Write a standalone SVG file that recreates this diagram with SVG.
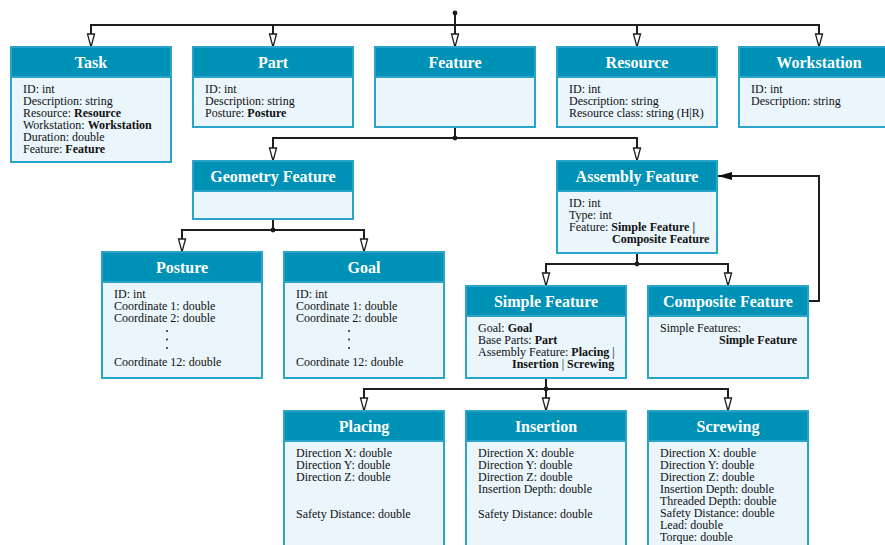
<svg xmlns="http://www.w3.org/2000/svg" width="885" height="545" viewBox="0 0 885 545">
  <style>
    .body { fill: #eaf5fc; stroke: #2ba4c9; stroke-width: 2; }
    .head { fill: #0092b6; stroke: #2ba4c9; stroke-width: 2; }
    .title { font-family: "Liberation Serif", "Times New Roman", serif; font-size: 16px; font-weight: bold; fill: #ffffff; text-anchor: middle; }
    .attr { font-family: "Liberation Serif", "Times New Roman", serif; font-size: 12px; fill: #111111; }
    .b { font-weight: bold; }
    .wire { fill: none; stroke: #1e1e1e; stroke-width: 2; }
    .gen { marker-end: url(#hollow); }
    .joint { fill: #1e1e1e; }
    .ell { fill: #222222; }
  </style>
  <defs>
    <!-- hollow triangle for generalization / containment edges -->
    <marker id="hollow" viewBox="0 0 14 8" refX="13.5" refY="4" markerWidth="14" markerHeight="8" markerUnits="userSpaceOnUse" orient="auto" overflow="visible">
      <path d="M0.5,0.5 L13.5,4 L0.5,7.5 Z" fill="#ffffff" stroke="#1e1e1e" stroke-width="1.3"/>
    </marker>
    <!-- solid arrowhead for the back-reference edge -->
    <marker id="solid" viewBox="0 0 14 8" refX="14" refY="4" markerWidth="14" markerHeight="8" markerUnits="userSpaceOnUse" orient="auto">
      <path d="M0,0 L14,4 L0,8 Z" fill="#111111"/>
    </marker>
  </defs>

  <rect width="885" height="545" fill="#ffffff"/>

  <!-- connectors -->
  <g id="connectors">
    <path class="wire gen" d="M455 13 V47"/>
    <path class="wire gen" d="M455 25 H91 V47"/>
    <path class="wire gen" d="M455 25 H819 V47"/>
    <path class="wire gen" d="M273 25 V47"/>
    <path class="wire gen" d="M637 25 V47"/>
    <circle class="joint" cx="455" cy="13" r="2.4"/>

    <path class="wire" d="M455 127 V138"/>
    <path class="wire gen" d="M455 138 H273 V161"/>
    <path class="wire gen" d="M455 138 H637 V161"/>
    <circle class="joint" cx="455" cy="138" r="2.4"/>

    <path class="wire" d="M273 219 V230"/>
    <path class="wire gen" d="M273 230 H182 V252"/>
    <path class="wire gen" d="M273 230 H364 V252"/>
    <circle class="joint" cx="273" cy="230" r="2.4"/>

    <path class="wire" d="M637 253 V264"/>
    <path class="wire gen" d="M637 264 H546 V286"/>
    <path class="wire gen" d="M637 264 H728 V286"/>
    <circle class="joint" cx="637" cy="264" r="2.4"/>

    <path class="wire" d="M808 301 H819 V176 H718" marker-end="url(#solid)"/>

    <path class="wire" d="M546 378 V389"/>
    <path class="wire gen" d="M546 389 H364 V411"/>
    <path class="wire gen" d="M546 389 V411"/>
    <path class="wire gen" d="M546 389 H728 V411"/>
    <circle class="joint" cx="546" cy="389" r="2.4"/>
  </g>

  <!-- top row -->
  <g id="task">
    <rect class="body" x="11" y="47" width="160" height="115"/>
    <rect class="head" x="11" y="47" width="160" height="30"/>
    <text class="title" x="91" y="67.5">Task</text>
    <text class="attr" x="23" y="93">ID: int</text>
    <text class="attr" x="23" y="105">Description: string</text>
    <text class="attr" x="23" y="117">Resource: <tspan class="b">Resource</tspan></text>
    <text class="attr" x="23" y="129">Workstation: <tspan class="b">Workstation</tspan></text>
    <text class="attr" x="23" y="141">Duration: double</text>
    <text class="attr" x="23" y="153">Feature: <tspan class="b">Feature</tspan></text>
  </g>

  <g id="part">
    <rect class="body" x="193" y="47" width="160" height="80"/>
    <rect class="head" x="193" y="47" width="160" height="30"/>
    <text class="title" x="273" y="67.5">Part</text>
    <text class="attr" x="205" y="93">ID: int</text>
    <text class="attr" x="205" y="105">Description: string</text>
    <text class="attr" x="205" y="117">Posture: <tspan class="b">Posture</tspan></text>
  </g>

  <g id="feature">
    <rect class="body" x="375" y="47" width="160" height="80"/>
    <rect class="head" x="375" y="47" width="160" height="30"/>
    <text class="title" x="455" y="67.5">Feature</text>
  </g>

  <g id="resource">
    <rect class="body" x="557" y="47" width="160" height="80"/>
    <rect class="head" x="557" y="47" width="160" height="30"/>
    <text class="title" x="637" y="67.5">Resource</text>
    <text class="attr" x="569" y="93">ID: int</text>
    <text class="attr" x="569" y="105">Description: string</text>
    <text class="attr" x="569" y="117">Resource class: string (H|R)</text>
  </g>

  <g id="workstation">
    <rect class="body" x="739" y="47" width="160" height="80"/>
    <rect class="head" x="739" y="47" width="160" height="30"/>
    <text class="title" x="819" y="67.5">Workstation</text>
    <text class="attr" x="751" y="93">ID: int</text>
    <text class="attr" x="751" y="105">Description: string</text>
  </g>

  <!-- second tier -->
  <g id="geometry-feature">
    <rect class="body" x="193" y="161" width="160" height="58"/>
    <rect class="head" x="193" y="161" width="160" height="30"/>
    <text class="title" x="273" y="181.5">Geometry Feature</text>
  </g>

  <g id="assembly-feature">
    <rect class="body" x="557" y="161" width="160" height="92"/>
    <rect class="head" x="557" y="161" width="160" height="30"/>
    <text class="title" x="637" y="181.5">Assembly Feature</text>
    <text class="attr" x="569" y="207">ID: int</text>
    <text class="attr" x="569" y="219">Type: int</text>
    <text class="attr" x="569" y="231">Feature: <tspan class="b">Simple Feature |</tspan></text>
    <text class="attr b" x="612" y="243">Composite Feature</text>
  </g>

  <!-- third tier -->
  <g id="posture">
    <rect class="body" x="102" y="252" width="160" height="126"/>
    <rect class="head" x="102" y="252" width="160" height="30"/>
    <text class="title" x="182" y="272.5">Posture</text>
    <text class="attr" x="114" y="298">ID: int</text>
    <text class="attr" x="114" y="310">Coordinate 1: double</text>
    <text class="attr" x="114" y="322">Coordinate 2: double</text>
    <circle class="ell" cx="167" cy="331" r="1"/>
    <circle class="ell" cx="167" cy="339.5" r="1"/>
    <circle class="ell" cx="167" cy="348" r="1"/>
    <text class="attr" x="114" y="366">Coordinate 12: double</text>
  </g>

  <g id="goal">
    <rect class="body" x="284" y="252" width="160" height="126"/>
    <rect class="head" x="284" y="252" width="160" height="30"/>
    <text class="title" x="364" y="272.5">Goal</text>
    <text class="attr" x="296" y="298">ID: int</text>
    <text class="attr" x="296" y="310">Coordinate 1: double</text>
    <text class="attr" x="296" y="322">Coordinate 2: double</text>
    <circle class="ell" cx="349" cy="331" r="1"/>
    <circle class="ell" cx="349" cy="339.5" r="1"/>
    <circle class="ell" cx="349" cy="348" r="1"/>
    <text class="attr" x="296" y="366">Coordinate 12: double</text>
  </g>

  <g id="simple-feature">
    <rect class="body" x="466" y="286" width="160" height="92"/>
    <rect class="head" x="466" y="286" width="160" height="30"/>
    <text class="title" x="546" y="306.5">Simple Feature</text>
    <text class="attr" x="478" y="332">Goal: <tspan class="b">Goal</tspan></text>
    <text class="attr" x="478" y="344">Base Parts: <tspan class="b">Part</tspan></text>
    <text class="attr" x="478" y="356">Assembly Feature: <tspan class="b">Placing</tspan> |</text>
    <text class="attr" x="512" y="368"><tspan class="b">Insertion</tspan> | <tspan class="b">Screwing</tspan></text>
  </g>

  <g id="composite-feature">
    <rect class="body" x="648" y="286" width="160" height="92"/>
    <rect class="head" x="648" y="286" width="160" height="30"/>
    <text class="title" x="728" y="306.5">Composite Feature</text>
    <text class="attr" x="660" y="332">Simple Features:</text>
    <text class="attr b" x="719" y="344">Simple Feature</text>
  </g>

  <!-- bottom tier -->
  <g id="placing">
    <rect class="body" x="284" y="411" width="160" height="150"/>
    <rect class="head" x="284" y="411" width="160" height="30"/>
    <text class="title" x="364" y="431.5">Placing</text>
    <text class="attr" x="296" y="457">Direction X: double</text>
    <text class="attr" x="296" y="469">Direction Y: double</text>
    <text class="attr" x="296" y="481">Direction Z: double</text>
    <text class="attr" x="296" y="518">Safety Distance: double</text>
  </g>

  <g id="insertion">
    <rect class="body" x="466" y="411" width="160" height="150"/>
    <rect class="head" x="466" y="411" width="160" height="30"/>
    <text class="title" x="546" y="431.5">Insertion</text>
    <text class="attr" x="478" y="457">Direction X: double</text>
    <text class="attr" x="478" y="469">Direction Y: double</text>
    <text class="attr" x="478" y="481">Direction Z: double</text>
    <text class="attr" x="478" y="493">Insertion Depth: double</text>
    <text class="attr" x="478" y="518">Safety Distance: double</text>
  </g>

  <g id="screwing">
    <rect class="body" x="648" y="411" width="160" height="150"/>
    <rect class="head" x="648" y="411" width="160" height="30"/>
    <text class="title" x="728" y="431.5">Screwing</text>
    <text class="attr" x="660" y="457">Direction X: double</text>
    <text class="attr" x="660" y="469">Direction Y: double</text>
    <text class="attr" x="660" y="481">Direction Z: double</text>
    <text class="attr" x="660" y="493">Insertion Depth: double</text>
    <text class="attr" x="660" y="505">Threaded Depth: double</text>
    <text class="attr" x="660" y="517">Safety Distance: double</text>
    <text class="attr" x="660" y="529">Lead: double</text>
    <text class="attr" x="660" y="541">Torque: double</text>
  </g>
</svg>
